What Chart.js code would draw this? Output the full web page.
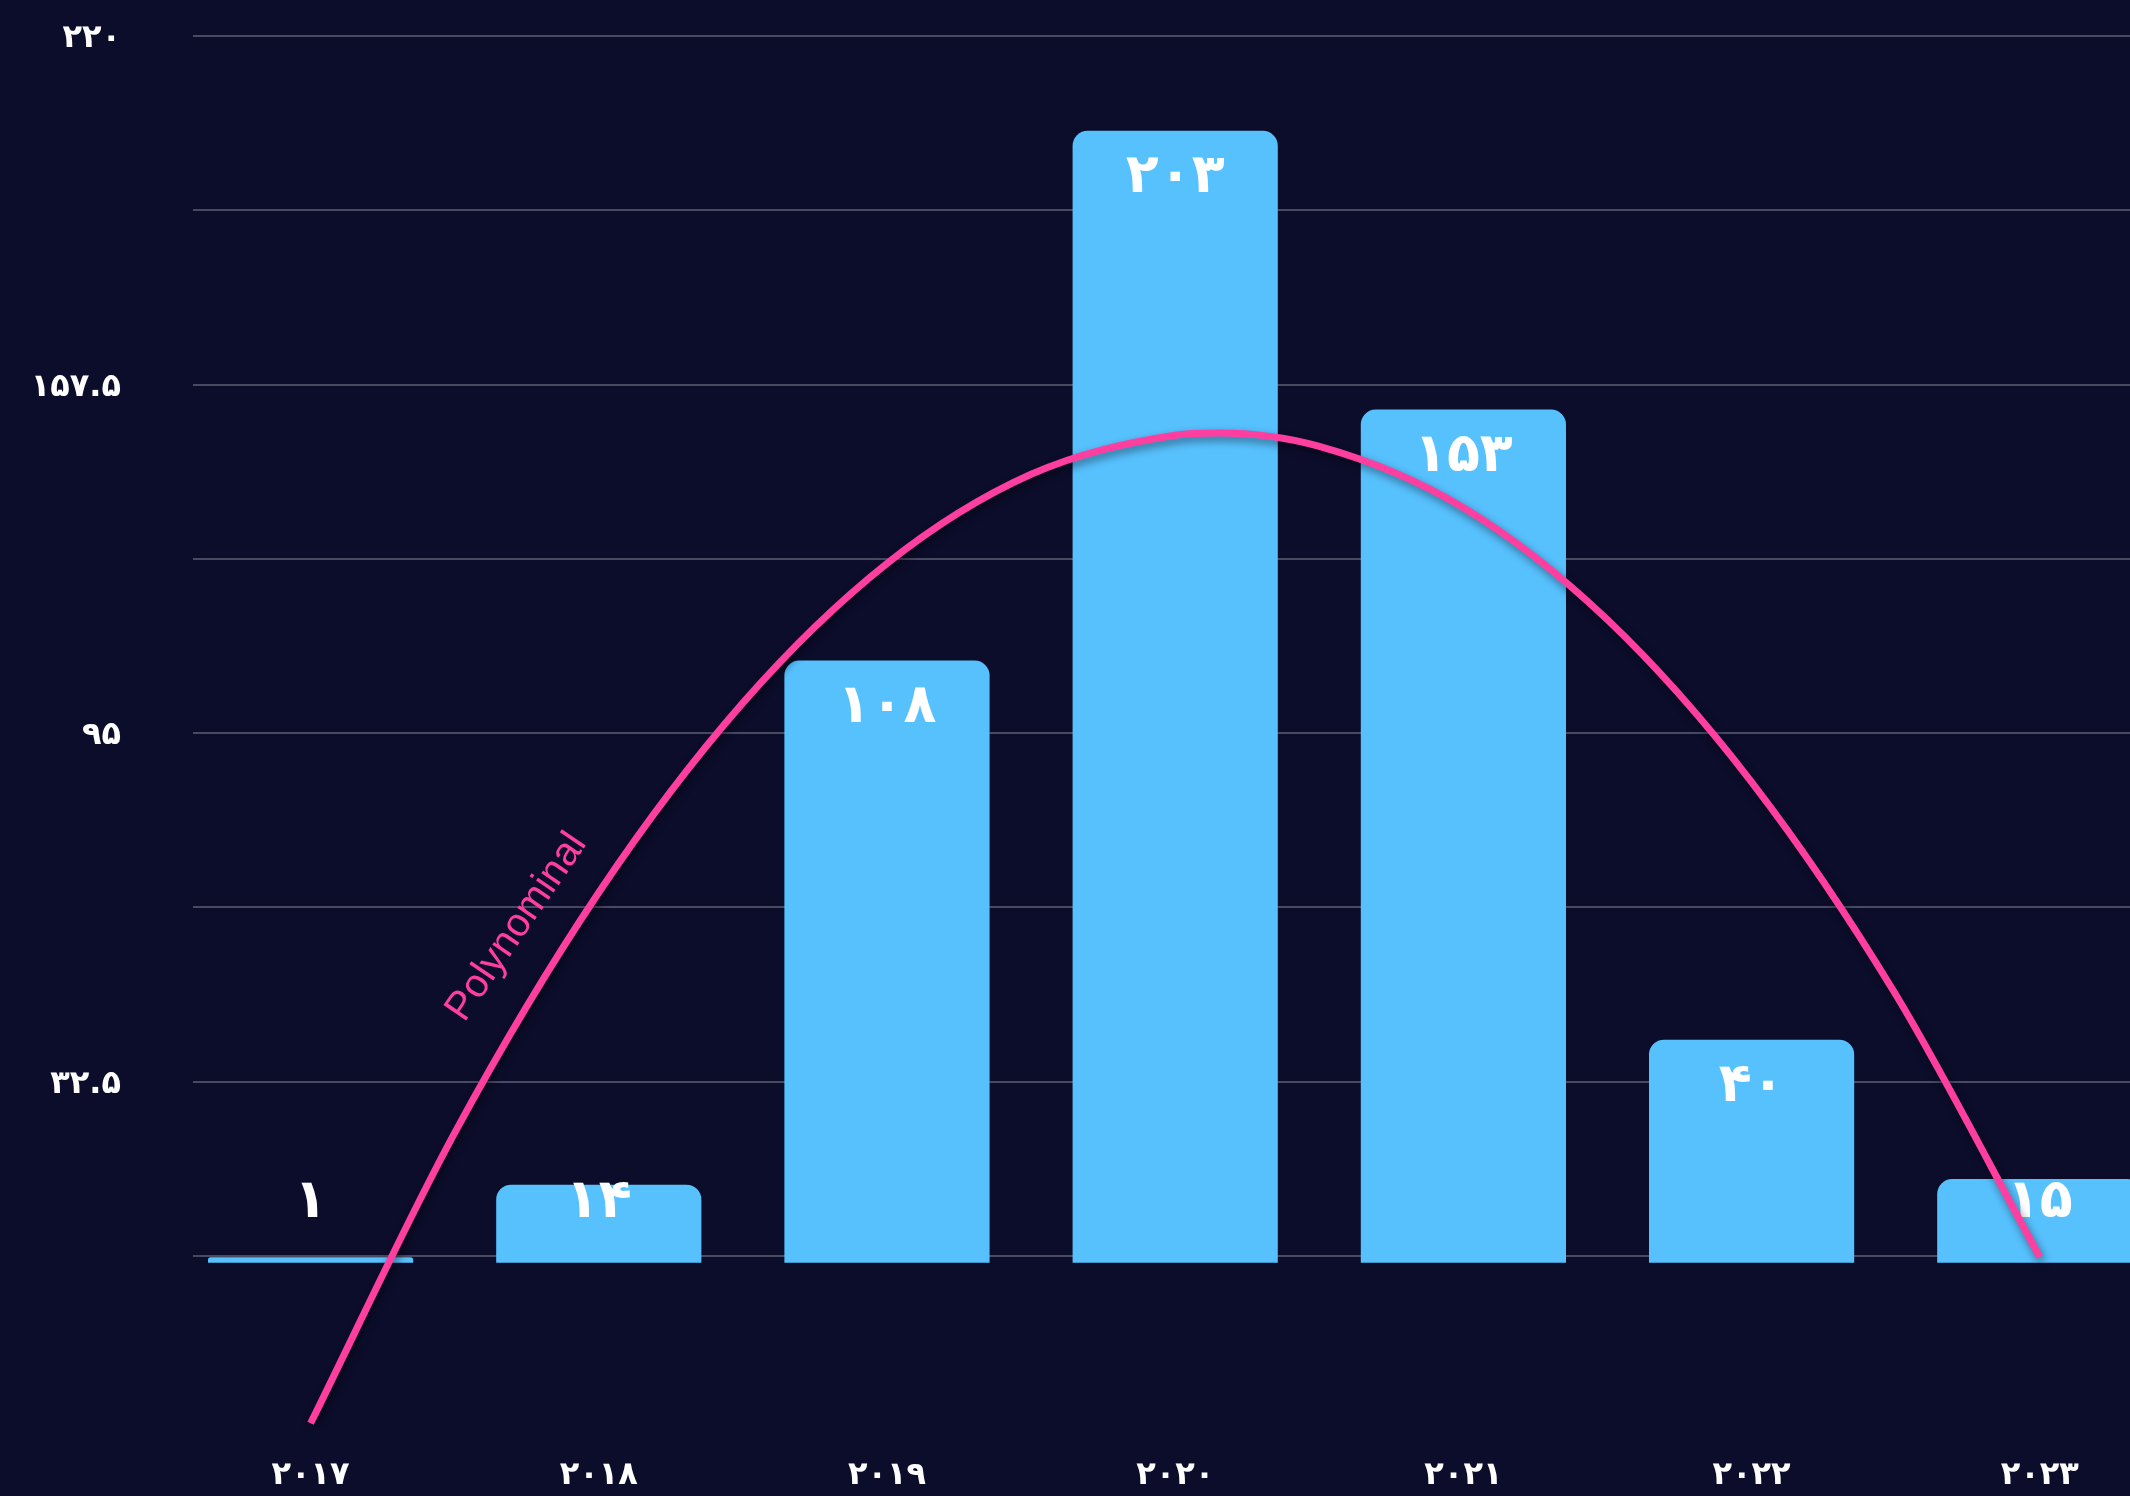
<!DOCTYPE html>
<html>
<head>
<meta charset="utf-8">
<script src="https://cdn.jsdelivr.net/npm/chart.js@4/dist/chart.umd.min.js"></script>
<style>
  html, body { margin: 0; padding: 0; background: #0c0d2b; overflow: hidden; }
  canvas { display: block; }
</style>
</head>
<body>
<canvas id="chart" width="2130" height="1496"></canvas>
<script>
// Yearly counts, one bar per year
const years = ['۲۰۱۷', '۲۰۱۸', '۲۰۱۹', '۲۰۲۰', '۲۰۲۱', '۲۰۲۲', '۲۰۲۳'];
const counts = [1, 14, 108, 203, 153, 40, 15];

// Polynomial trend curve: half-year samples plus its peak
const trendX = [0, 0.5, 1, 1.5, 2, 2.5, 3, 3.15, 3.5, 4, 4.5, 5, 5.5, 6];
const trendY = [-28.8, 23.3, 66.4, 100.4, 125.4, 141.4, 148.4, 148.8, 146.4, 135.4, 115.3, 86.2, 48.1, 1.0];
const trendName = 'Polynominal';

// Labelled value-axis ticks
const yTickValues = [220, 157.5, 95, 32.5];
const yTickLabels = ['۲۲۰', '۱۵۷.۵', '۹۵', '۳۲.۵'];

const faDigits = '۰۱۲۳۴۵۶۷۸۹';
const toFa = n => String(n).replace(/\d/g, d => faDigits[d]);

const BAR_COLOR = '#57c1fe';
const TREND_COLOR = '#ff3fa0';
const GRID_COLOR = '#484a62';
const LABEL_FONT = '"DejaVu Sans", sans-serif';

const overlays = {
  id: 'overlays',
  beforeDatasetDraw(chart, args) {
    if (args.index !== 1) return;
    const ctx = chart.ctx;
    ctx.save();
    ctx.shadowColor = 'rgba(0, 0, 0, 0.45)';
    ctx.shadowBlur = 8;
    ctx.shadowOffsetX = 2;
    ctx.shadowOffsetY = 4;
  },
  afterDatasetDraw(chart, args) {
    const ctx = chart.ctx;
    if (args.index === 1) { ctx.restore(); return; }
    if (args.index !== 0) return;
    // value labels near the top of each bar
    const base = chart.scales.y.getPixelForValue(0);
    ctx.save();
    ctx.fillStyle = '#ffffff';
    ctx.font = 'bold 54px ' + LABEL_FONT;
    ctx.textAlign = 'center';
    ctx.textBaseline = 'middle';
    args.meta.data.forEach((bar, i) => {
      const y = Math.min(bar.y + 47, base - 60);
      ctx.fillText(toFa(counts[i]), bar.x, y);
    });
    ctx.restore();
  },
  afterDatasetsDraw(chart) {
    // trend line name, written along the rising side of the curve
    const ctx = chart.ctx;
    const x = chart.scales.x.getPixelForValue(0.715);
    const y = chart.scales.y.getPixelForValue(60.2);
    ctx.save();
    ctx.translate(x, y);
    ctx.rotate(-55.6 * Math.PI / 180);
    ctx.fillStyle = TREND_COLOR;
    ctx.font = '40px "Liberation Sans", Arial, sans-serif';
    ctx.textAlign = 'center';
    ctx.textBaseline = 'middle';
    ctx.fillText(trendName, 0, 0);
    ctx.restore();
  }
};

new Chart(document.getElementById('chart'), {
  data: {
    datasets: [
      {
        type: 'bar',
        data: counts.map((v, i) => ({ x: i, y: v })),
        backgroundColor: BAR_COLOR,
        borderRadius: { topLeft: 15, topRight: 15, bottomLeft: 0, bottomRight: 0 },
        borderSkipped: 'start',
        categoryPercentage: 1,
        barPercentage: 0.712,
        order: 1
      },
      {
        type: 'line',
        data: trendX.map((x, i) => ({ x: x, y: trendY[i] })),
        borderColor: TREND_COLOR,
        borderWidth: 7,
        borderCapStyle: 'butt',
        cubicInterpolationMode: 'monotone',
        pointRadius: 0,
        fill: false,
        order: 0
      }
    ]
  },
  plugins: [overlays],
  options: {
    responsive: false,
    animation: false,
    layout: { padding: { top: 36, left: 0, right: 0, bottom: 0 } },
    plugins: { legend: { display: false }, tooltip: { enabled: false } },
    scales: {
      x: {
        type: 'linear',
        bounds: 'data',
        offset: false,
        min: -0.408,
        max: 6.313,
        grid: { display: false, drawTicks: false, offset: false },
        border: { display: false },
        // one tick per year
        afterBuildTicks: s => { s.ticks = years.map((_, i) => ({ value: i })); },
        afterFit: s => { s.height = 66; s.paddingLeft = 0; s.paddingRight = 0; },
        ticks: {
          autoSkip: false,
          maxRotation: 0,
          padding: 26,
          color: '#ffffff',
          font: { family: LABEL_FONT, weight: 'bold', size: 32 },
          callback: v => (Number.isInteger(v) && years[v]) ? years[v] : ''
        }
      },
      y: {
        min: -30,
        max: 220,
        afterFit: s => { s.width = 193; s.paddingTop = 0; s.paddingBottom = 0; },
        border: { display: false },
        grid: {
          drawTicks: false,
          lineWidth: 2,
          color: c => (c.tick && c.tick.value === -30) ? 'rgba(0,0,0,0)' : GRID_COLOR
        },
        ticks: {
          stepSize: 31.25,
          autoSkip: false,
          padding: 72,
          labelOffset: 3,
          color: '#ffffff',
          font: { family: LABEL_FONT, weight: 'bold', size: 32 },
          callback: v => {
            const i = yTickValues.indexOf(v);
            return i < 0 ? '' : yTickLabels[i];
          }
        }
      }
    }
  }
});
</script>
</body>
</html>
